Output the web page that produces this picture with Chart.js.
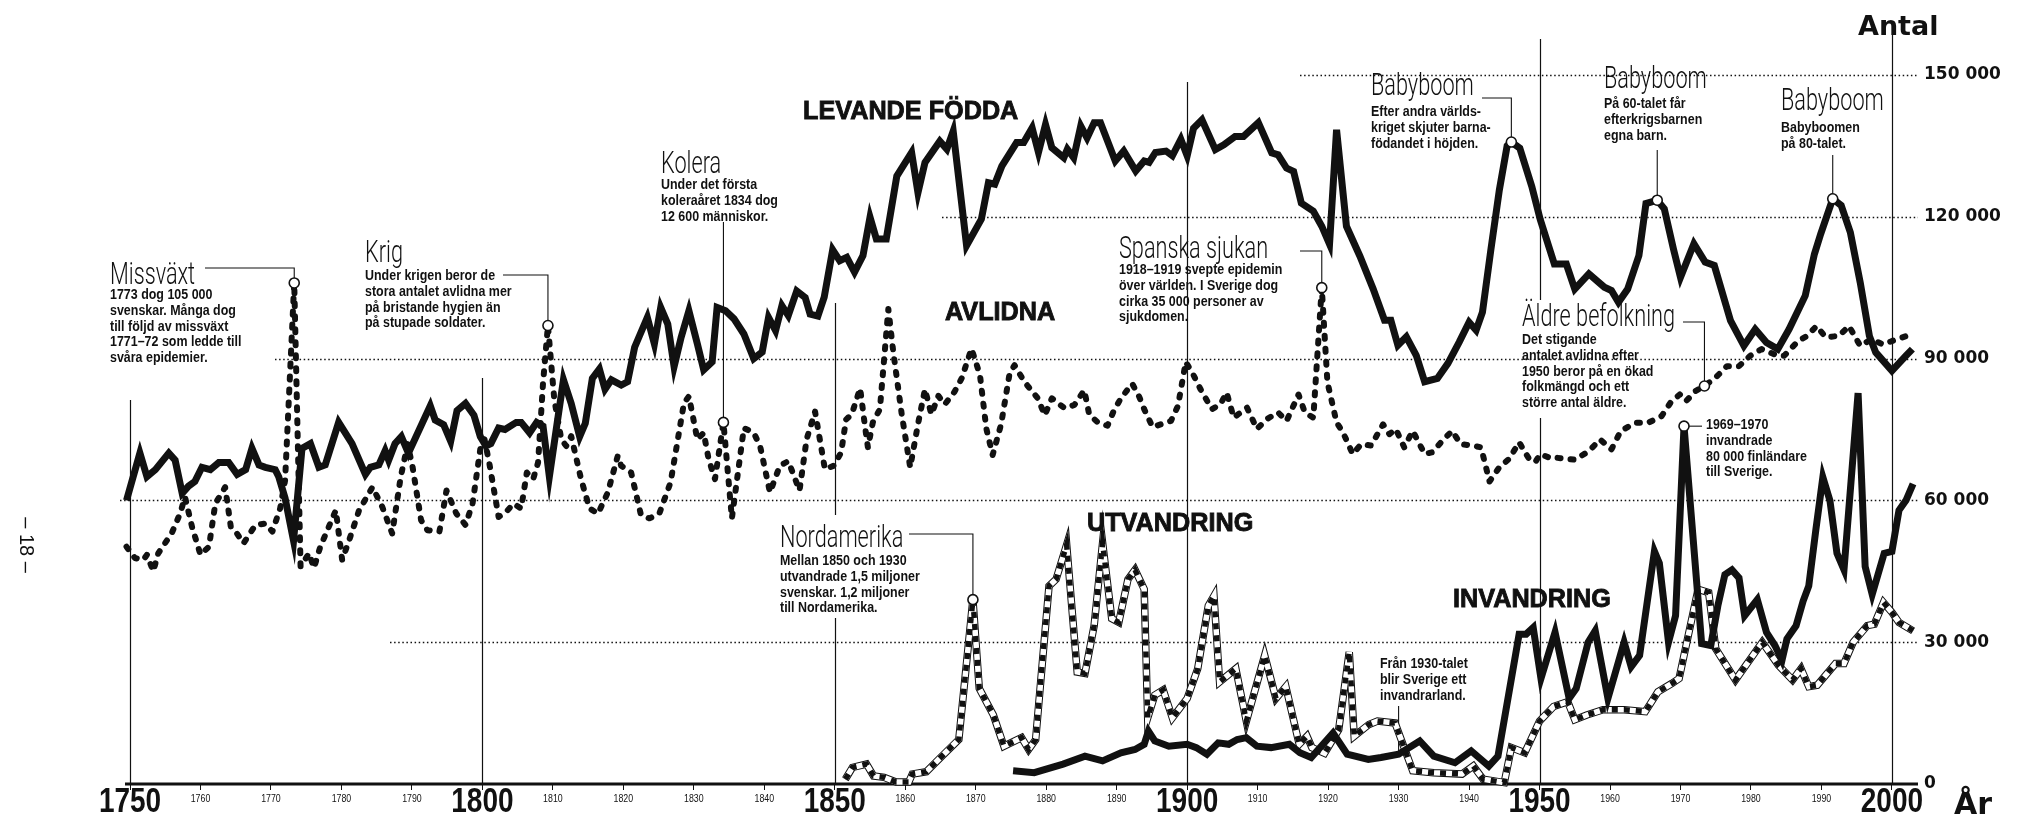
<!DOCTYPE html>
<html>
<head>
<meta charset="utf-8">
<script src="https://cdn.jsdelivr.net/npm/chart.js@4.4.1/dist/chart.umd.min.js"></script>
<style>
  html, body { margin: 0; padding: 0; background: #fff; }
  #wrap { width: 2022px; height: 820px; }
</style>
</head>
<body>
<div id="wrap"><canvas id="chart" width="2022" height="820"></canvas></div>
<script>
// Sweden 1750-2003: yearly counts, [year, count]
const births = [
  [1749.5,60000],[1751.4,70000],[1752.4,65000],[1753.6,66500],[1755.5,70000],[1756.4,68500],[1757.4,61500],[1758.3,63000],[1759.2,64000],[1760.2,67000],
  [1761.4,66500],[1762.6,68000],[1764,68000],[1765.2,65500],[1766.4,66500],[1767.3,71000],[1768.3,67500],[1769.2,67000],[1770.6,66500],[1771.1,65000],
  [1772,60500],[1773.2,51500],[1774.4,71000],[1775.6,72000],[1776.8,67000],[1777.7,67500],[1779.6,76500],[1781.5,72000],[1783.4,65500],[1784.1,67000],
  [1785.3,67500],[1786.2,70500],[1786.7,68500],[1787.6,72000],[1788.5,73500],[1789.5,70000],[1792.6,80000],[1793.3,77000],[1794.5,76000],[1795.5,72500],
  [1796.4,79000],[1797.6,80500],[1798.8,78000],[1799.7,73500],[1800.5,71500],[1801.2,72000],[1802.3,75300],[1803.2,75000],[1804.8,76500],[1805.5,76500],
  [1806.7,74300],[1807.7,76500],[1808.6,75700],[1809.5,65000],[1811.5,85500],[1812.6,80500],[1813.8,73500],[1814.6,76300],[1815.6,85800],[1816.6,87800],
  [1817.4,83500],[1818.3,85500],[1819.7,84400],[1820.6,85100],[1821.6,92400],[1823.4,98700],[1824.4,93100],[1825.3,100800],[1826.3,97300],[1827.2,88300],
  [1828.2,94500],[1829.3,100100],[1830.5,93100],[1831.4,87600],[1832.6,89300],[1833.3,100800],[1834.5,100100],[1835.7,98400],[1837.1,95200],[1838.5,90000],
  [1839.7,91400],[1840.6,98700],[1841.6,95900],[1842.5,101200],[1843.4,99100],[1844.6,104300],[1845.8,102900],[1846.5,99400],[1847.6,99000],[1848.5,103000],
  [1849.7,113000],[1850.7,110700],[1851.7,111400],[1852.8,108300],[1854,111800],[1855,119900],[1855.9,115300],[1857.3,115300],[1858.8,128600],[1860.9,133600],
  [1861.8,125100],[1862.8,131500],[1864.9,136000],[1865.9,134300],[1866.8,138100],[1868.7,113900],[1870.8,119500],[1871.8,127200],[1872.7,126900],[1873.7,130700],
  [1875.8,135700],[1876.8,135700],[1878,138800],[1878.9,133600],[1879.9,139500],[1880.8,134600],[1882.5,132500],[1883,134300],[1883.9,132500],[1884.9,139200],
  [1885.8,136700],[1886.8,139900],[1887.7,139900],[1889.8,131800],[1891,133900],[1892.7,129700],[1893.9,131800],[1894.6,131500],[1895.5,133600],[1897,133900],
  [1897.9,132900],[1899.1,136400],[1900,132900],[1900.9,138700],[1902.1,140500],[1904,134200],[1905.2,135200],[1906.8,137000],[1908,137000],[1910.1,139900],
  [1912,133500],[1912.9,133100],[1914.1,130300],[1915.1,129600],[1916.2,122900],[1917.9,121200],[1919.1,118000],[1920.2,114200],[1921.2,138400],[1922.6,118000],
  [1924.5,111700],[1926.4,104700],[1928,98100],[1928.9,98100],[1929.9,92800],[1931.1,94600],[1932.5,90700],[1933.7,85100],[1935.5,85800],[1937,89000],
  [1938.6,93500],[1940,97700],[1941,96000],[1941.9,99800],[1943.1,113100],[1944.3,125700],[1945.4,135000],[1946,135800],[1947.2,134500],[1948.9,126400],
  [1950.1,119400],[1952.1,110000],[1953.8,110000],[1955,104700],[1957,107900],[1959.2,105100],[1960.2,104400],[1961.2,101900],[1962.5,104700],[1964.1,111800],
  [1965.1,122800],[1966.7,123500],[1967.7,121700],[1969,113200],[1970,107200],[1971.9,114300],[1973.5,110400],[1974.8,109700],[1977.1,98000],[1979,92700],
  [1980.6,96200],[1982.2,93400],[1983.8,92000],[1985.4,96200],[1987.7,103300],[1989,112100],[1989.9,116400],[1991.6,123800],[1992.8,122400],[1994.1,116700],
  [1995.5,106100],[1996.8,94800],[1997.7,91300],[2000,87400],[2002,90600],[2002.9,92000]
];

const deaths = [
  [1749.5,50200],[1750.7,47800],[1751.9,47400],[1752.4,48500],[1753.3,45000],[1754,48800],[1755.9,53000],[1757.1,57200],[1757.8,60700],[1758.8,54400],
  [1760,48500],[1761.2,50200],[1762.1,59300],[1763.5,62800],[1764.3,54400],[1765,53400],[1766.1,50900],[1767.8,54800],[1769.2,55100],[1770.2,53400],
  [1771.3,58300],[1772,64200],[1773.3,106000],[1774.2,46000],[1775.4,48800],[1776.1,45700],[1777,50200],[1779.2,57900],[1780.1,47400],[1781.1,51600],
  [1782.5,57900],[1784.4,62800],[1785.8,58600],[1787.2,53000],[1788.4,64900],[1789.4,71900],[1790.1,67000],[1791.3,55800],[1792.2,53700],[1793.9,53400],
  [1794.9,62100],[1796.3,57200],[1797.6,54800],[1798.6,59300],[1799.8,71900],[1800.3,72900],[1801,67700],[1802.3,56500],[1803.4,57600],[1804.4,59300],
  [1805.5,58300],[1806.3,65900],[1807.2,64500],[1807.9,68000],[1808.6,84800],[1809.3,97000],[1810.2,81300],[1811.2,72900],[1811.9,71500],[1812.6,73600],
  [1814,64500],[1815.2,58300],[1816.4,57200],[1817.8,61700],[1819.2,69400],[1819.7,67300],[1821.1,65900],[1822.5,56900],[1823.7,56200],[1825.1,57200],
  [1826.7,63800],[1828.6,80600],[1829.3,82000],[1830.5,72900],[1831.4,74300],[1832.1,68700],[1833,64500],[1834.2,76500],[1835.4,56200],[1837.1,75300],
  [1838.5,74300],[1839.4,71500],[1840.8,61700],[1842.2,67300],[1843.4,68300],[1845,62100],[1846,72900],[1847.2,78800],[1848.6,66600],[1849.8,67300],
  [1850.9,70100],[1851.6,77100],[1852.4,78200],[1853.6,83700],[1854.3,75500],[1854.7,71200],[1855.4,76500],[1856.4,79300],[1857.6,100500],[1858.3,91400],
  [1859.5,78200],[1860.7,67000],[1861.8,76100],[1862.8,83500],[1863.7,78200],[1864.7,82100],[1865.6,80300],[1867,83000],[1868,85800],[1869.4,92100],
  [1870.6,86500],[1871.5,75200],[1872.4,69600],[1873.6,76100],[1874.8,86800],[1875.5,88600],[1876.9,85100],[1878.8,81600],[1879.8,78000],[1880.8,81600],
  [1882.6,79500],[1884,80200],[1885.4,83300],[1886.1,78200],[1887.3,76500],[1888.7,75800],[1889.6,79000],[1890.6,81600],[1892.2,84700],[1893.2,81900],
  [1893.9,79300],[1895.1,75500],[1896.3,76100],[1897.7,76800],[1898.7,80000],[1899.8,89300],[1900.9,86500],[1901.9,83500],[1903.5,79300],[1904.7,80300],
  [1905.6,82800],[1906.6,77500],[1908.5,79600],[1909.9,75100],[1911.3,77200],[1912.9,78600],[1914.1,76800],[1915.8,82400],[1916.7,78600],[1917.9,77500],
  [1919.1,105000],[1919.9,85000],[1921.2,76500],[1922.1,74400],[1923.5,69800],[1924.7,71900],[1926.1,71600],[1927.8,76100],[1928.7,74000],[1929.6,75100],
  [1930.8,71200],[1932,74700],[1933.7,69800],[1934.8,70200],[1936.2,72600],[1937.6,74700],[1938.8,71900],[1940.5,71600],[1941.7,71200],[1942.9,64000],
  [1944.3,67000],[1945.7,68800],[1947.1,72300],[1948.5,68800],[1949.4,68100],[1950.1,69800],[1951.8,68800],[1952.5,69000],[1955,68600],[1957,70400],
  [1958.6,72900],[1960.2,70800],[1961.5,74600],[1963.5,76400],[1965.4,76400],[1967.3,77800],[1968.6,80700],[1969.9,82400],[1970.8,81000],[1972.1,83100],
  [1973.4,84200],[1975,86000],[1976.6,88400],[1978.3,88400],[1979.9,90600],[1981.5,92000],[1983.8,90600],[1984.7,90600],[1986.7,93700],[1988,94800],
  [1989.3,96900],[1990.6,94500],[1992.5,94800],[1993.9,96900],[1995.5,92700],[1997.1,94100],[1998.7,93000],[2000,93700],[2002.9,95200]
];

const emigration = [
  [1851.5,1000],[1852.5,3500],[1854.5,4200],[1855.5,1700],[1857,1400],[1858.7,400],[1860.5,400],[1861,2100],[1863,2600],[1865,5600],
  [1867.6,9400],[1869.6,39000],[1870.5,20200],[1872.5,14600],[1874,8000],[1876.5,9800],[1877.5,7300],[1878.5,9400],[1880.4,41900],[1881.4,43300],
  [1882.9,50600],[1884.4,23700],[1885.5,23400],[1886.8,33500],[1888,51000],[1889.3,35000],[1890.3,34200],[1891.6,43300],[1892.6,45300],[1893.9,41200],
  [1894.4,14000],[1895.4,18800],[1896.6,19900],[1897.9,14000],[1900,18100],[1901.5,24400],[1903,37700],[1903.8,39800],[1904.6,21600],[1906.9,24400],
  [1908.4,13300],[1911,27200],[1912.6,18100],[1914,20600],[1915.9,8400],[1917,10100],[1917.7,7700],[1919.5,6500],[1921.5,11500],[1923,27900],
  [1923.7,10100],[1925.8,12600],[1927,13300],[1929.5,12900],[1932,2800],[1935,2400],[1939,2100],[1940.6,3800],[1942,1000],[1945,300],
  [1946,7700],[1947.9,6600],[1950,13300],[1952,16400],[1954,17400],[1955,13600],[1956.7,14600],[1959,15700],[1962,15700],[1965,15300],
  [1966.8,19500],[1968.8,21300],[1969.8,22300],[1972.5,41200],[1974,40500],[1975,28600],[1977.8,22000],[1981.6,30000],[1983.9,25100],[1985.9,22000],
  [1987.1,24400],[1988.2,20600],[1989.4,20900],[1992,25500],[1993.2,25500],[1994.5,30000],[1996.5,33500],[1997.5,33800],[1998.8,38400],[2000,36300],
  [2001,34200],[2003,32400]
];

const immigration = [
  [1875.3,2800],[1878.3,2400],[1882.4,4200],[1885.5,5900],[1888,4900],[1890.6,6600],[1892.6,7300],[1893.9,8400],[1894.5,11200],[1895.4,9100],
  [1897.4,8000],[1900,8400],[1901.3,7700],[1902.8,6300],[1904.4,8700],[1905.9,8400],[1907.1,9400],[1908.4,9800],[1909.9,8000],[1911.9,7700],
  [1914.5,8400],[1916,6600],[1917.6,5600],[1920.7,10800],[1922.7,6300],[1925.7,5200],[1927.5,5600],[1930,6300],[1933,9100],[1935,5900],
  [1938,4500],[1940.3,7000],[1942.8,3800],[1944.1,5900],[1947.1,31700],[1948.1,31700],[1949.1,33100],[1950.2,22300],[1952.2,32100],[1954.2,18100],
  [1955.2,20200],[1956.9,30000],[1957.9,32400],[1959.7,18100],[1962,30000],[1963,24800],[1964.2,27200],[1966.3,49200],[1967,46700],[1968.3,30000],
  [1969.3,35600],[1970.5,75700],[1973,29700],[1974.3,29300],[1975.3,37700],[1976.3,44300],[1977.3,45300],[1978.3,43600],[1979.1,35600],[1980.9,39000],
  [1982.2,32100],[1983.4,29300],[1984.4,26200],[1985.1,30700],[1986.4,33500],[1987.4,38700],[1988.2,41900],[1989.2,53700],[1990.2,64900],[1991.2,60000],
  [1992.2,48800],[1993.2,45300],[1995.2,82700],[1996.2,46000],[1997.2,40100],[1998.9,48800],[2000,49200],[2001,57900],[2002,60000],[2003,63500]
];

const yearTicks = [1750, 1760, 1770, 1780, 1790, 1800, 1810, 1820, 1830, 1840, 1850, 1860, 1870, 1880, 1890,
  1900, 1910, 1920, 1930, 1940, 1950, 1960, 1970, 1980, 1990, 2000];
const countTicks = [0, 30000, 60000, 90000, 120000, 150000];

const INK = '#111';

const xy = (series) => series.map(([x, y]) => ({ x, y }));
function pick(series, year) {
  const p = series.find((d) => d[0] === year);
  return { x: p[0], y: p[1] };
}
function spaced(value) {
  return value.toString().replace(/\B(?=(\d{3})+(?!\d))/g, " ");
}

// circled points that the notes point at
const markers = [
  pick(deaths, 1773.3), pick(deaths, 1809.3), pick(deaths, 1834.2), pick(emigration, 1869.6),
  pick(deaths, 1919.1), pick(births, 1946), pick(births, 1966.7), pick(births, 1991.6),
  pick(deaths, 1973.4), pick(immigration, 1970.5)
];

const BODY = 'bold 15px "Liberation Sans", Arial, sans-serif';
const HAND = '300 31px Roboto, "Open Sans", sans-serif';
const LH = 15.7;

const notes = [
  { m: 0, title: "Missväxt", x: 110, ty: 284, by: 295, lead: { y: 268, from: 205 },
    lines: ["1773 dog 105 000", "svenskar. Många dog", "till följd av missväxt", "1771–72 som ledde till", "svåra epidemier."] },
  { m: 1, title: "Krig", x: 365, ty: 262, by: 276, lead: { y: 275, from: 503 },
    lines: ["Under krigen beror de", "stora antalet avlidna mer", "på bristande hygien än", "på stupade soldater."] },
  { m: 2, title: "Kolera", x: 661, ty: 173, by: 185, lead: { top: 222 },
    lines: ["Under det första", "koleraåret 1834 dog", "12 600 människor."] },
  { m: 3, title: "Nordamerika", x: 780, ty: 547, by: 561, lead: { y: 534, from: 909 },
    lines: ["Mellan 1850 och 1930", "utvandrade 1,5 miljoner", "svenskar. 1,2 miljoner", "till Nordamerika."] },
  { m: 4, title: "Spanska sjukan", x: 1119, ty: 258, by: 270, lead: { y: 251, from: 1300 },
    lines: ["1918–1919 svepte epidemin", "över världen. I Sverige dog", "cirka 35 000 personer av", "sjukdomen."] },
  { m: 5, title: "Babyboom", x: 1371, ty: 95, by: 112, lead: { y: 98, from: 1482 },
    lines: ["Efter andra världs-", "kriget skjuter barna-", "födandet i höjden."] },
  { m: 6, title: "Babyboom", x: 1604, ty: 88, by: 104, lead: { top: 150 },
    lines: ["På 60-talet får", "efterkrigsbarnen", "egna barn."] },
  { m: 7, title: "Babyboom", x: 1781, ty: 110, by: 128, lead: { top: 155 },
    lines: ["Babyboomen", "på 80-talet."] },
  { m: 8, title: "Äldre befolkning", x: 1522, ty: 326, by: 340, lead: { y: 322, from: 1683 },
    lines: ["Det stigande", "antalet avlidna efter", "1950 beror på en ökad", "folkmängd och ett", "större antal äldre."] },
  { m: 9, title: null, x: 1706, by: 425, lead: { right: 1702 },
    lines: ["1969–1970", "invandrade", "80 000 finländare", "till Sverige."] },
  { m: null, title: null, x: 1380, by: 664, lead: null,
    lines: ["Från 1930-talet", "blir Sverige ett", "invandrarland."] }
];

function drawText(ctx, str, x, y, font, sx, align, baseline) {
  ctx.save();
  ctx.font = font;
  ctx.textAlign = align || "left";
  ctx.textBaseline = baseline || "alphabetic";
  ctx.translate(x, y);
  ctx.scale(sx, 1);
  ctx.fillText(str, 0, 0);
  ctx.restore();
}

function seg(ctx, x0, y0, x1, y1) {
  ctx.beginPath();
  ctx.moveTo(x0, y0);
  ctx.lineTo(x1, y1);
  ctx.stroke();
}

// dotted guide lines, century lines, base line and note leaders
const backdrop = {
  id: "backdrop",
  beforeDatasetsDraw(chart) {
    const { ctx, chartArea, scales } = chart;
    const sx = scales.x, sy = scales.y;
    ctx.save();
    ctx.strokeStyle = INK;

    ctx.lineWidth = 1.3;
    ctx.setLineDash([1.5, 2.6]);
    [[150000, 1300], [120000, 942], [90000, 275], [60000, 120], [30000, 390]].forEach(([v, x0]) => {
      const py = Math.round(sy.getPixelForValue(v)) + 0.5;
      seg(ctx, x0, py, chartArea.right, py);
    });
    ctx.setLineDash([]);

    ctx.lineWidth = 1.2;
    const base = sy.getPixelForValue(0);
    [[1750, [[400, base]]], [1800, [[378, base]]], [1850, [[303, 515], [618, base]]],
     [1900, [[82, base]]], [1950, [[39, 300], [418, base]]], [2000, [[22, base]]]].forEach(([yr, spans]) => {
      const px = Math.round(sx.getPixelForValue(yr)) + 0.5;
      spans.forEach(([a, b]) => seg(ctx, px, a, px, b));
    });

    ctx.lineWidth = 3;
    seg(ctx, 125, base, chartArea.right, base);

    ctx.lineWidth = 1.1;
    notes.forEach((n) => {
      if (!n.lead) return;
      const p = markers[n.m];
      const mx = sx.getPixelForValue(p.x), my = sy.getPixelForValue(p.y);
      if (n.lead.from !== undefined) {
        ctx.beginPath();
        ctx.moveTo(n.lead.from, n.lead.y);
        ctx.lineTo(mx, n.lead.y);
        ctx.lineTo(mx, my - 5);
        ctx.stroke();
      } else if (n.lead.top !== undefined) {
        seg(ctx, mx, n.lead.top, mx, my - 5);
      } else if (n.lead.right !== undefined) {
        seg(ctx, mx + 5, my, n.lead.right, my);
      }
    });
    const p30 = pick(immigration, 1930);
    const lx = sx.getPixelForValue(p30.x);
    seg(ctx, lx, 706, lx, sy.getPixelForValue(p30.y));
    ctx.restore();
  }
};

// all text: notes, series names, axis labels
const lettering = {
  id: "lettering",
  afterDraw(chart) {
    const { ctx, chartArea, scales } = chart;
    const sx = scales.x, sy = scales.y;
    ctx.save();
    ctx.fillStyle = INK;
    ctx.strokeStyle = INK;

    notes.forEach((n) => {
      if (n.title) drawText(ctx, n.title, n.x, n.ty, HAND, 0.7);
      n.lines.forEach((t, i) => drawText(ctx, t, n.x, n.by + i * LH, BODY, 0.83, "left", "middle"));
    });

    const big = 'bold 26px "Liberation Sans", Arial, sans-serif';
    [["LEVANDE FÖDDA", 803, 119], ["AVLIDNA", 945, 320], ["UTVANDRING", 1087, 531], ["INVANDRING", 1453, 607]]
      .forEach(([t, x, y]) => {
        ctx.save();
        ctx.font = big;
        ctx.lineWidth = 0.9;
        ctx.translate(x, y);
        ctx.scale(0.97, 1);
        ctx.fillText(t, 0, 0);
        ctx.strokeText(t, 0, 0);
        ctx.restore();
      });

    yearTicks.forEach((yr) => {
      const px = sx.getPixelForValue(yr);
      if (yr % 50 === 0) {
        drawText(ctx, String(yr), px, 812, 'bold 35px "Liberation Sans", Arial, sans-serif', 0.8, "center");
      } else {
        drawText(ctx, String(yr), px, 802, '11px "Liberation Sans", Arial, sans-serif', 0.8, "center");
      }
    });

    countTicks.forEach((v) => {
      drawText(ctx, spaced(v), chartArea.right + 6, sy.getPixelForValue(v), 'bold 17px "DejaVu Sans", sans-serif', 1, "left", "middle");
    });

    drawText(ctx, "Antal", 1858, 35, 'bold 27px "DejaVu Sans", sans-serif', 1);
    drawText(ctx, "År", 1954, 814, 'bold 30px "DejaVu Sans", sans-serif', 1);

    ctx.save();
    ctx.translate(26, 545);
    ctx.rotate(Math.PI / 2);
    drawText(ctx, "– 18 –", 0, 0, '20px "Liberation Sans", Arial, sans-serif', 1, "center", "middle");
    ctx.restore();
    ctx.restore();
  }
};

const lineBase = { pointRadius: 0, tension: 0, fill: false, clip: 8 };

new Chart(document.getElementById("chart"), {
  type: "line",
  data: {
    datasets: [
      { ...lineBase, label: "markers", data: markers, showLine: false, pointRadius: 5,
        pointBackgroundColor: "#fff", pointBorderColor: INK, pointBorderWidth: 1.6, order: 0 },
      { ...lineBase, label: "Levande födda", data: xy(births), borderColor: INK, borderWidth: 7,
        borderJoinStyle: "miter", order: 1 },
      { ...lineBase, label: "Avlidna", data: xy(deaths), borderColor: INK, borderWidth: 6,
        borderDash: [3, 10], borderCapStyle: "round", borderJoinStyle: "round", order: 2 },
      { ...lineBase, label: "Invandring", data: xy(immigration), borderColor: INK, borderWidth: 7,
        borderJoinStyle: "miter", order: 3 },
      { ...lineBase, label: "Utvandring", data: xy(emigration), borderColor: INK, borderWidth: 5.5,
        borderDash: [6, 6], order: 4 },
      { ...lineBase, label: "Utvandring bas", data: xy(emigration), borderColor: "#fff", borderWidth: 5.5, order: 5 },
      { ...lineBase, label: "Utvandring kant", data: xy(emigration), borderColor: INK, borderWidth: 7.5, order: 6 }
    ]
  },
  options: {
    responsive: false,
    devicePixelRatio: 1,
    animation: false,
    layout: { padding: 0, autoPadding: false },
    plugins: { legend: { display: false }, tooltip: { enabled: false } },
    scales: {
      x: {
        type: "linear",
        position: "bottom",
        min: 1731.55,
        max: 2003.7,
        afterFit: (s) => { s.height = 36; },
        afterBuildTicks: (s) => { s.ticks = yearTicks.map((v) => ({ value: v })); },
        border: { display: false },
        grid: { drawOnChartArea: false, drawTicks: true, tickLength: 6, color: INK, lineWidth: 1 },
        ticks: { display: false }
      },
      y: {
        type: "linear",
        position: "right",
        min: 0,
        max: 165856,
        afterFit: (s) => { s.width = 104; },
        afterBuildTicks: (s) => { s.ticks = countTicks.map((v) => ({ value: v })); },
        border: { display: false },
        grid: { display: false, drawTicks: false },
        ticks: { display: false }
      }
    }
  },
  plugins: [backdrop, lettering]
});
</script>
</body>
</html>
